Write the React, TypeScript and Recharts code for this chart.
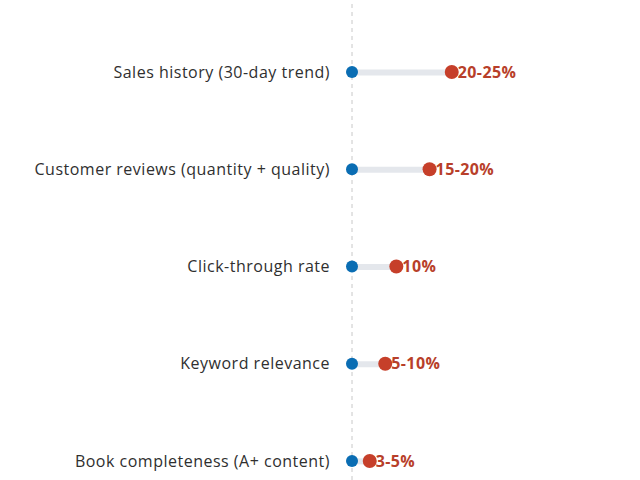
import { ComposedChart, Bar, Line, XAxis, YAxis, ReferenceLine, LabelList } from "recharts";

const FACTORS = [
  "Sales history (30-day trend)",
  "Customer reviews (quantity + quality)",
  "Click-through rate",
  "Keyword relevance",
  "Book completeness (A+ content)",
];
const WEIGHTS = [22.5, 17.5, 10, 7.5, 4];
const WEIGHT_LABELS = ["20-25%", "15-20%", "10%", "5-10%", "3-5%"];

const data = FACTORS.map((name, i) => ({
  name,
  start: 0,
  weight: WEIGHTS[i],
  label: WEIGHT_LABELS[i],
}));

const FONT = "'Open Sans', sans-serif";

export default function App() {
  return (
    <div style={{ position: "absolute", left: 0, top: 0, background: "#fff" }}>
      <ComposedChart
        width={640}
        height={480}
        data={data}
        layout="vertical"
        margin={{ top: 0, right: 22, bottom: 0, left: 0 }}
      >
        <XAxis type="number" domain={[0, 60]} hide />
        <YAxis
          type="category"
          dataKey="name"
          scale="point"
          width={352}
          padding={{ top: 72, bottom: 19 }}
          axisLine={false}
          tickLine={false}
          tickMargin={16}
          tick={{ fontSize: 16, fill: "#2f2f2f", fontFamily: FONT, letterSpacing: 0.5 }}
        />
        <ReferenceLine x={0} stroke="#c8c8c8" strokeDasharray="4 4" />
        <Bar dataKey="weight" barSize={6} fill="#e4e7ec" isAnimationActive={false} />
        <Line
          dataKey="start"
          stroke="none"
          dot={{ r: 6, fill: "#0a6db3", stroke: "none" }}
          activeDot={false}
          isAnimationActive={false}
        />
        <Line
          dataKey="weight"
          stroke="none"
          dot={{ r: 7, fill: "#c63f2a", stroke: "none" }}
          activeDot={false}
          isAnimationActive={false}
        >
          <LabelList
            dataKey="label"
            position="right"
            offset={6}
            fill="#b83f2a"
            fontSize={16}
            fontWeight={700}
            fontFamily={FONT}
            letterSpacing={0.4}
          />
        </Line>
      </ComposedChart>
    </div>
  );
}
